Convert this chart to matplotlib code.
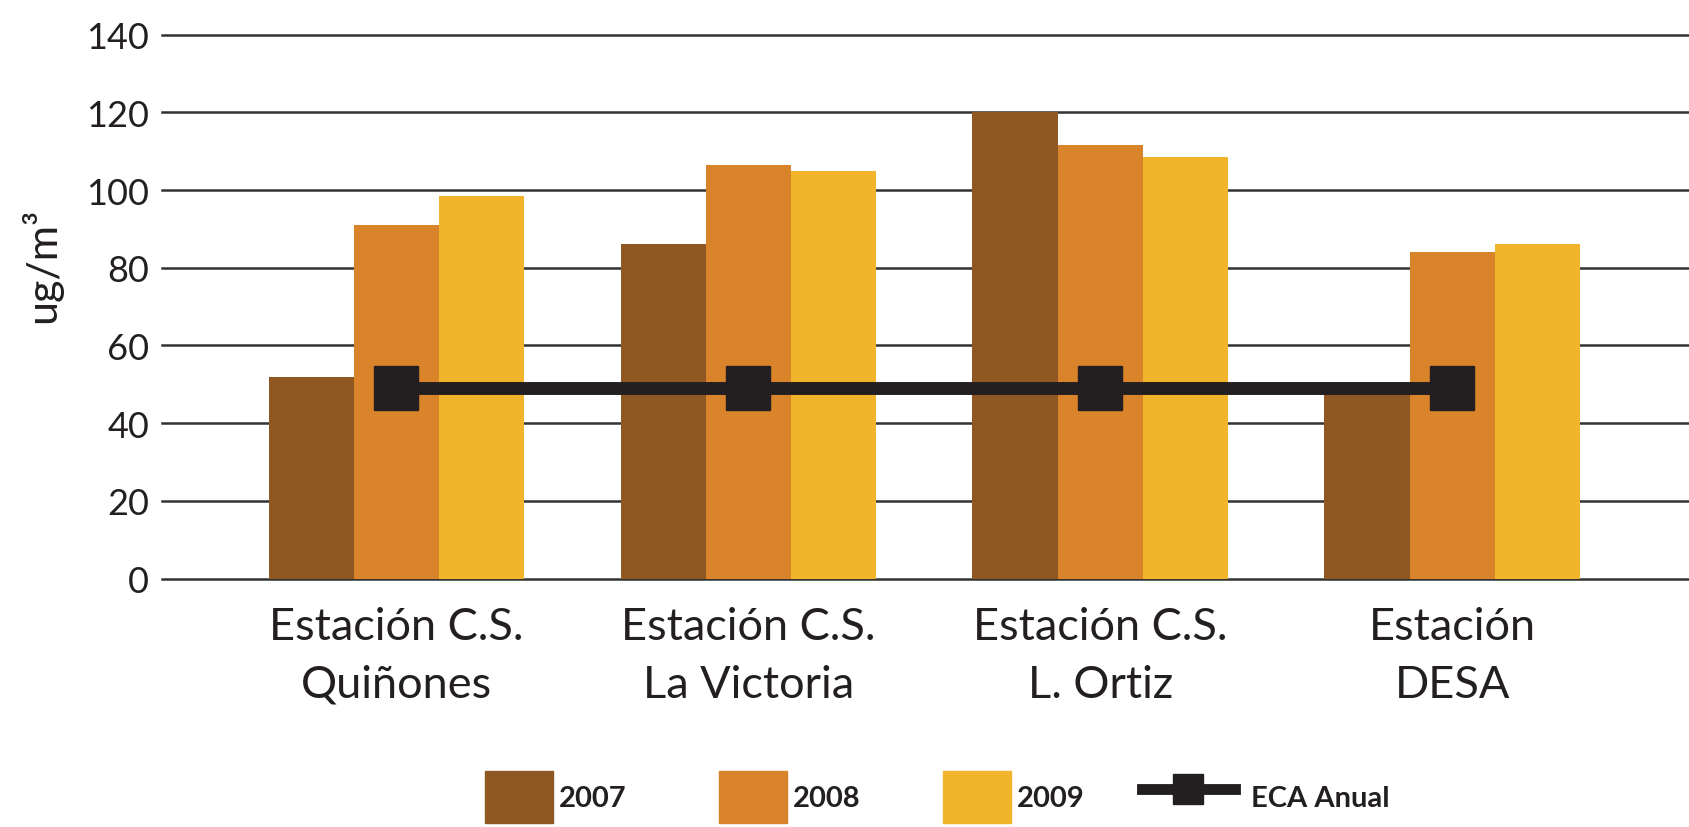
import numpy as np
import matplotlib
matplotlib.use('Agg')
import matplotlib.pyplot as plt
from matplotlib.patches import Patch
from matplotlib.lines import Line2D

# datos PM10 por estación (ug/m3)
estaciones = ['Estación C.S.\nQuiñones', 'Estación C.S.\nLa Victoria',
              'Estación C.S.\nL. Ortiz', 'Estación\nDESA']
v2007 = [52, 86, 120, 49]
v2008 = [91, 106.5, 111.5, 84]
v2009 = [98.5, 105, 108.5, 86]
eca_anual = [49, 49, 49, 49]
years = ['2007', '2008', '2009']

colores = ['#8F5822', '#D9832A', '#F2B42A']
negro = '#231F20'

plt.rcParams['font.family'] = ['Lato', 'DejaVu Sans']

fig = plt.figure(figsize=(16.89, 8.28), dpi=100)
ax = fig.add_axes([0.0957, 0.300, 0.9043, 0.657])

x = np.arange(len(estaciones))
w = 0.242
for i, (vals, c) in enumerate(zip([v2007, v2008, v2009], colores)):
    ax.bar(x + (i - 1) * w, vals, width=w, color=c, zorder=2)

ax.plot(x, eca_anual, color=negro, lw=9.3, marker='s', markersize=32,
        solid_capstyle='butt', zorder=3)

ax.set_xlim(-0.667, 3.673)
ax.set_ylim(0, 140)
ax.set_yticks(range(0, 141, 20))
ax.yaxis.grid(True, color='#333333', lw=1.8, zorder=0)
for gl in ax.get_ygridlines():
    gl.set_clip_on(False)
ax.set_axisbelow(True)
for s in ax.spines.values():
    s.set_visible(False)

ax.tick_params(axis='y', length=0, pad=9, labelsize=26, labelcolor=negro)
ax.tick_params(axis='x', length=0, pad=20, labelsize=32.5, labelcolor=negro)
ax.set_xticks(x)
ax.set_xticklabels(estaciones, linespacing=1.5)

fig.text(0.0243, 0.68, 'ug/m³', rotation=90, ha='center', va='center',
         fontsize=31, color=negro)

# leyenda: una entrada por caja para controlar la separación
handles = [Patch(color=c) for c in colores]
handles.append(Line2D([0], [0], color=negro, lw=7.8, marker='s', markersize=22))
labels = years + ['ECA Anual']
x_leg = [484.7, 718.5, 942.6, 1141.8]
for h, lab, xl in zip(handles, labels, x_leg):
    es_linea = isinstance(h, Line2D)
    leg = fig.legend([h], [lab], loc='center left',
                     bbox_to_anchor=(xl / 1689, 0.036), frameon=False,
                     borderpad=0, borderaxespad=0,
                     handlelength=3.2 if es_linea else 2.35,
                     handleheight=2.35,
                     handletextpad=0.55 if es_linea else 0.2,
                     prop={'size': 21, 'weight': 'bold'})
    for t in leg.get_texts():
        t.set_color(negro)

fig.savefig('out.png', dpi=100)
